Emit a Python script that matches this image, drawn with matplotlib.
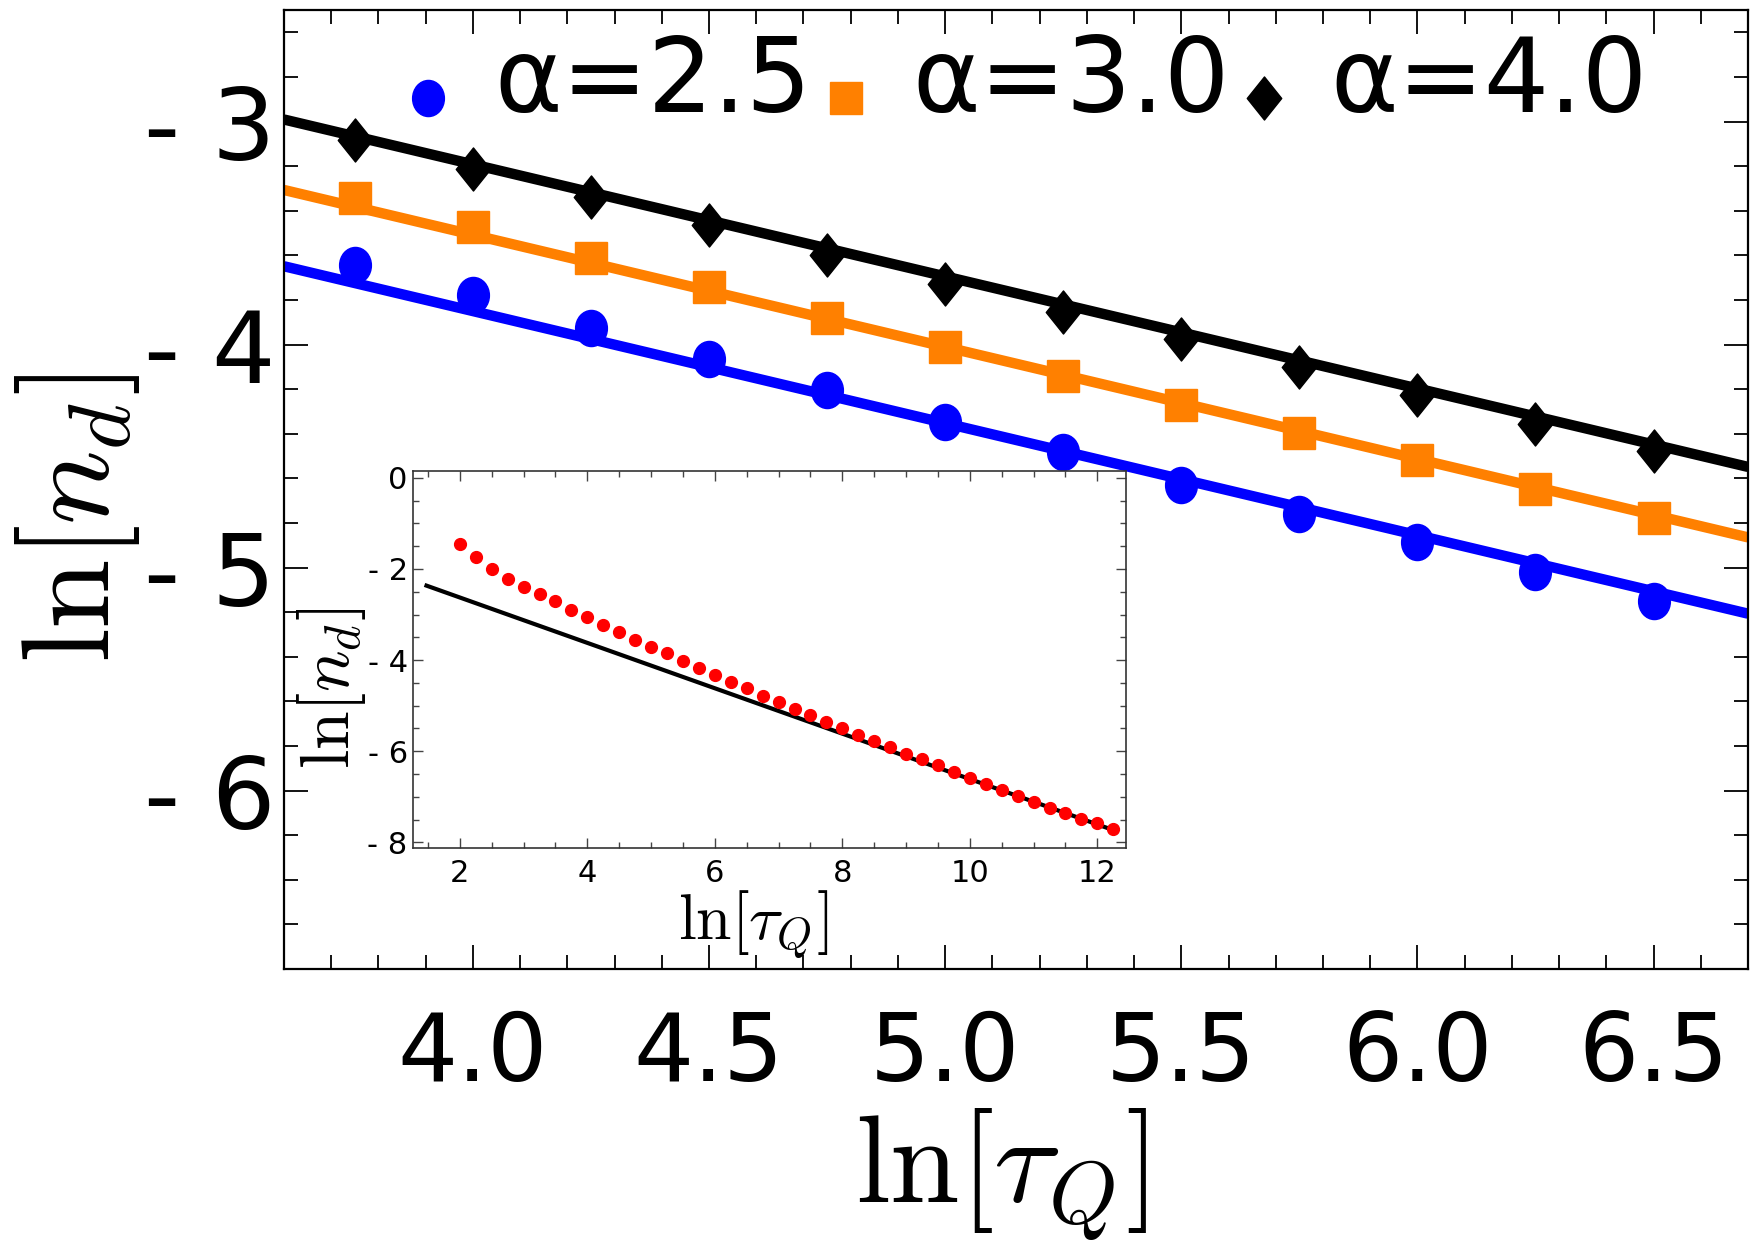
import numpy as np
import matplotlib
matplotlib.use('Agg')
import matplotlib.pyplot as plt
from matplotlib.lines import Line2D
from matplotlib.legend_handler import HandlerLine2D
from matplotlib.path import Path
from matplotlib.transforms import Affine2D
from matplotlib.ticker import FixedLocator, FixedFormatter, MultipleLocator

plt.rcParams['font.family'] = ['DejaVu Sans']
plt.rcParams['mathtext.fontset'] = 'cm'

# ---------------- data ----------------
ln_tau = [3.75, 4.0, 4.25, 4.5, 4.75, 5.0, 5.25, 5.5, 5.75, 6.0, 6.25, 6.5]
ln_nd_a25 = [-3.643, -3.779, -3.925, -4.065, -4.206, -4.347, -4.482, -4.628,
             -4.759, -4.884, -5.019, -5.151]
ln_nd_a30 = [-3.342, -3.472, -3.613, -3.744, -3.879, -4.010, -4.141, -4.271,
             -4.397, -4.517, -4.648, -4.779]
ln_nd_a40 = [-3.085, -3.211, -3.337, -3.462, -3.598, -3.729, -3.854, -3.975,
             -4.100, -4.226, -4.357, -4.477]
series_labels = ['α=2.5', 'α=3.0', 'α=4.0']
fit_slope = [-0.5025, -0.5025, -0.5025]
fit_intercept = [-1.840, -1.498, -1.182]

x_ticks = [4.0, 4.5, 5.0, 5.5, 6.0, 6.5]
x_ticklabels = ['4.0', '4.5', '5.0', '5.5', '6.0', '6.5']
y_ticks = [-3, -4, -5, -6]
y_ticklabels = ['- 3', '- 4', '- 5', '- 6']

# inset data
in_ln_tau = [2.0, 2.25, 2.5, 2.75, 3.0, 3.25, 3.5, 3.75, 4.0, 4.25, 4.5, 4.75,
             5.0, 5.25, 5.5, 5.75, 6.0, 6.25, 6.5, 6.75, 7.0, 7.25, 7.5, 7.75,
             8.0, 8.25, 8.5, 8.75, 9.0, 9.25, 9.5, 9.75, 10.0, 10.25, 10.5,
             10.75, 11.0, 11.25, 11.5, 11.75, 12.0, 12.25]
in_ln_nd = [-1.46, -1.74, -2.01, -2.22, -2.39, -2.54, -2.71, -2.89, -3.05,
            -3.22, -3.38, -3.55, -3.71, -3.85, -4.01, -4.17, -4.33, -4.47,
            -4.62, -4.78, -4.92, -5.07, -5.21, -5.36, -5.50, -5.64, -5.78,
            -5.91, -6.05, -6.18, -6.31, -6.45, -6.59, -6.72, -6.85, -6.98,
            -7.11, -7.24, -7.36, -7.48, -7.58, -7.70]
in_fit_range = [1.477, 12.30]
in_fit_slope = -0.498
in_fit_intercept = -1.630
in_x_ticks = [2, 4, 6, 8, 10, 12]
in_x_ticklabels = ['2', '4', '6', '8', '10', '12']
in_y_ticks = [0, -2, -4, -6, -8]
in_y_ticklabels = ['0', '- 2', '- 4', '- 6', '- 8']

colors = ['#0000ff', '#ff8000', '#000000']

# custom markers
ellipse = Path.unit_circle().transformed(Affine2D().scale(0.88, 1.0))
diamond = Path([(0, 1), (0.8, 0), (0, -1), (-0.8, 0), (0, 1)],
               [Path.MOVETO, Path.LINETO, Path.LINETO, Path.LINETO, Path.CLOSEPOLY])
markers = [ellipse, 's', diamond]
msizes = [26, 23, 31]


class ShiftedMarkerHandler(HandlerLine2D):
    """Legend handler drawing the marker a bit below the text centre."""

    def __init__(self, dy, **kw):
        super().__init__(**kw)
        self.dy = dy

    def create_artists(self, legend, orig_handle, xdescent, ydescent, width,
                       height, fontsize, trans):
        arts = super().create_artists(legend, orig_handle, xdescent, ydescent,
                                      width, height, fontsize, trans)
        for a in arts:
            a.set_ydata(np.asarray(a.get_ydata(), dtype=float) - self.dy)
        return arts


# ---------------- figure ----------------
fig = plt.figure(figsize=(17.54, 12.41), dpi=100)
ax = fig.add_axes([284 / 1754, 1 - 969 / 1241, (1748 - 284) / 1754, (969 - 10) / 1241])
ax.set_xlim(3.6, 6.7)
ax.set_ylim(-6.8, -2.5)

series = [ln_nd_a25, ln_nd_a30, ln_nd_a40]
xf = np.array(ax.get_xlim())
handles = []
for ys, c, m, ms, b, a, lab in zip(series, colors, markers, msizes,
                                    fit_slope, fit_intercept, series_labels):
    ax.plot(xf, a + b * xf, color=c, lw=7.5, solid_capstyle='butt', zorder=2)
    h, = ax.plot(ln_tau, ys, linestyle='none', marker=m, ms=ms, color=c,
                 mec=c, label=lab, zorder=3)
    handles.append(h)

ax.xaxis.set_major_locator(FixedLocator(x_ticks))
ax.xaxis.set_major_formatter(FixedFormatter(x_ticklabels))
ax.xaxis.set_minor_locator(MultipleLocator(0.1))
ax.yaxis.set_major_locator(FixedLocator(y_ticks))
ax.yaxis.set_major_formatter(FixedFormatter(y_ticklabels))
ax.yaxis.set_minor_locator(MultipleLocator(0.2))
ax.tick_params(which='both', direction='in', top=True, right=True)
ax.tick_params(which='major', length=17, width=1.3)
ax.tick_params(which='minor', length=10, width=1.3)
ax.tick_params(axis='x', labelsize=68, pad=29)
ax.tick_params(axis='y', labelsize=72, pad=6)
for s in ax.spines.values():
    s.set_linewidth(1.6)

ax.set_xlabel(r'$\ln[\tau_Q]$', fontsize=90, labelpad=4)
ax.xaxis.label.set_x(0.49)
ax.set_ylabel(r'$\ln[n_d]$', fontsize=90)
ax.yaxis.set_label_coords(-0.097, 0.47)

leg = ax.legend(handles=handles, loc='upper center', bbox_to_anchor=(0.506, 0.976),
                ncol=3, frameon=False, fontsize=74, handlelength=0.5,
                handletextpad=0.4, columnspacing=0.08, borderaxespad=0,
                borderpad=0,
                handler_map={Line2D: ShiftedMarkerHandler(16)})

# ---------------- inset ----------------
ins = fig.add_axes([413.3 / 1754, 1 - 848.3 / 1241, (1126 - 413.3) / 1754,
                    (848.3 - 471) / 1241])
ins.set_xlim(1.27, 12.45)
ins.set_ylim(-8.13, 0.15)
ins.plot(in_ln_tau, in_ln_nd, linestyle='none', marker='o', ms=8.5,
         color='#ff0000', zorder=3)
xin = np.array(in_fit_range)
ins.plot(xin, in_fit_intercept + in_fit_slope * xin, color='black', lw=3,
         zorder=2)
ins.xaxis.set_major_locator(FixedLocator(in_x_ticks))
ins.xaxis.set_major_formatter(FixedFormatter(in_x_ticklabels))
ins.xaxis.set_minor_locator(MultipleLocator(0.5))
ins.yaxis.set_major_locator(FixedLocator(in_y_ticks))
ins.yaxis.set_major_formatter(FixedFormatter(in_y_ticklabels))
ins.yaxis.set_minor_locator(MultipleLocator(0.5))
ins.tick_params(which='both', direction='in', top=True, right=True,
                color='#444444', width=1.0, labelsize=22)
ins.tick_params(which='major', length=7)
ins.tick_params(which='minor', length=4)
ins.tick_params(axis='x', pad=8)
ins.tick_params(axis='y', pad=4)
for s in ins.spines.values():
    s.set_linewidth(1.2)
    s.set_color('#333333')
ins.set_xlabel(r'$\ln[\tau_Q]$', fontsize=46, labelpad=0)
ins.xaxis.label.set_x(0.477)
ins.set_ylabel(r'$\ln[n_d]$', fontsize=50)
ins.yaxis.set_label_coords(-0.064, 0.425)

fig.savefig('out.png', dpi=100)
